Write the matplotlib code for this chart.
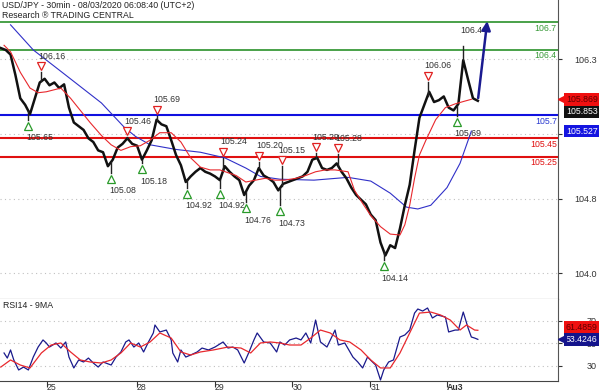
import numpy as np
import matplotlib.pyplot as plt
from matplotlib import transforms

plt.rcParams['font.family'] = ['Liberation Sans', 'DejaVu Sans']

# ---- data (30 min bars, x = bar number) ----
price_bars = list(range(0, 295, 3))
closes = [106.42, 106.40, 106.35, 106.13, 105.88, 105.81, 105.71, 105.88, 106.05, 106.09,
          106.02, 106.05, 105.99, 106.03, 105.78, 105.62, 105.58, 105.54, 105.45, 105.41,
          105.32, 105.30, 105.15, 105.22, 105.35, 105.39, 105.45, 105.39, 105.37, 105.22,
          105.32, 105.43, 105.65, 105.60, 105.58, 105.43, 105.27, 105.16, 104.98, 105.04,
          105.09, 105.13, 105.09, 105.07, 105.04, 105.00, 105.15, 105.09, 105.04, 105.00,
          104.84, 104.94, 105.00, 105.13, 105.05, 105.02, 104.98, 104.89, 104.96, 104.98,
          105.00, 105.02, 105.04, 105.09, 105.22, 105.24, 105.13, 105.11, 105.13, 105.18,
          105.09, 105.02, 104.92, 104.84, 104.79, 104.74, 104.63, 104.57, 104.33, 104.19,
          104.30, 104.27, 104.48, 104.73, 104.95, 105.32, 105.67, 105.81, 105.95, 105.84,
          105.86, 105.90, 105.78, 105.75, 105.82, 106.29, 106.08, 105.88, 105.853]

ma_fast_bars = [2, 6, 12, 18, 23, 28, 37, 43, 49, 55, 62, 68, 74, 80, 86, 92, 98, 105, 111,
                117, 123, 129, 135, 145, 151, 157, 163, 169, 175, 182, 188, 194, 200, 206,
                214, 218, 223, 228, 234, 240, 246, 249, 252, 255, 258, 262, 268, 274, 280,
                286, 290]
ma_fast = [106.45, 106.38, 106.16, 105.99, 105.94, 105.95, 105.99, 105.88, 105.75, 105.62,
           105.48, 105.38, 105.32, 105.36, 105.37, 105.43, 105.51, 105.51, 105.41, 105.24,
           105.14, 105.11, 105.11, 105.05, 104.98, 105.00, 105.02, 105.00, 105.00, 105.02,
           105.05, 105.09, 105.11, 105.11, 105.09, 104.89, 104.75, 104.62, 104.50, 104.42,
           104.41, 104.52, 104.73, 105.02, 105.27, 105.43, 105.65, 105.78, 105.82, 105.85,
           105.869]

ma_slow_bars = [6, 20, 37, 62, 76, 83, 92, 108, 123, 138, 151, 160, 172, 193, 214, 228, 240,
                250, 257, 265, 275, 283, 290]
ma_slow = [106.67, 106.40, 106.17, 105.83, 105.57, 105.47, 105.38, 105.33, 105.30, 105.24,
           105.13, 105.04, 105.01, 105.00, 105.03, 104.99, 104.86, 104.71, 104.69, 104.73,
           104.92, 105.18, 105.527]

high_bars = [25, 78, 96, 137, 159, 173, 194, 208, 263]
high_vals = [106.16, 105.46, 105.69, 105.24, 105.20, 105.15, 105.29, 105.28, 106.06]
low_bars = [17, 68, 87, 115, 135, 151, 172, 236, 281]
low_vals = [105.65, 105.08, 105.18, 104.92, 104.92, 104.76, 104.73, 104.14, 105.69]
spike_bar, spike_val = 285, 106.44

resistances = [106.7, 106.4]
pivot = 105.7
supports = [105.45, 105.25]
target = 106.74

rsi_bars = [2, 4, 6, 8, 11, 14, 17, 20, 23, 26, 28, 30, 34, 37, 40, 42, 45, 48, 51, 54, 57,
            60, 63, 68, 71, 74, 77, 79, 82, 85, 88, 91, 94, 95, 98, 102, 105, 106, 109, 111,
            114, 117, 121, 124, 128, 132, 137, 140, 143, 146, 150, 153, 156, 158, 162, 166,
            170, 172, 175, 178, 182, 185, 188, 191, 194, 197, 201, 206, 208, 212, 217, 220,
            223, 226, 231, 234, 236, 239, 242, 246, 249, 252, 255, 257, 260, 263, 266, 269,
            274, 276, 280, 282, 285, 288, 290, 292, 294]
rsi = [41.3, 36.8, 44.0, 35.1, 26.2, 28.8, 26.2, 37.7, 46.6, 52.9, 50.2, 46.6, 50.2, 45.7,
       51.1, 37.7, 28.0, 35.1, 33.3, 36.8, 32.4, 28.8, 33.3, 30.6, 37.7, 42.2, 51.1, 52.9,
       46.6, 50.2, 42.2, 51.1, 59.1, 66.2, 60.0, 61.7, 52.9, 41.3, 33.3, 44.0, 37.7, 39.5,
       42.2, 45.7, 44.0, 46.6, 51.1, 45.7, 46.6, 44.0, 32.4, 42.2, 52.9, 59.1, 51.1, 50.2,
       42.2, 51.1, 48.4, 52.9, 54.6, 52.9, 59.1, 50.2, 70.6, 51.1, 46.6, 61.7, 48.4, 50.2,
       37.7, 33.3, 28.0, 37.7, 30.6, 17.3, 26.2, 33.3, 35.1, 55.5, 57.3, 61.7, 76.8, 80.4,
       78.6, 81.3, 72.4, 75.1, 73.3, 60.0, 61.7, 61.7, 77.7, 63.5, 55.5, 54.6, 53.4246]
rsi_ma_bars = [0, 6, 12, 18, 25, 31, 37, 43, 49, 55, 62, 68, 74, 80, 86, 92, 98, 105, 111,
               117, 123, 131, 140, 148, 154, 160, 166, 172, 178, 185, 191, 197, 203, 209, 215,
               222, 228, 234, 240, 246, 252, 258, 265, 271, 277, 283, 287, 292, 294]
rsi_ma = [28.8, 35.1, 30.6, 28.0, 41.3, 48.4, 50.2, 42.2, 35.1, 33.3, 32.4, 35.1, 41.3, 50.2,
          46.6, 51.1, 59.1, 54.6, 42.2, 39.5, 42.2, 44.0, 46.6, 45.7, 41.3, 50.2, 51.1, 50.2,
          48.4, 48.4, 54.6, 61.7, 59.1, 52.9, 51.1, 44.0, 35.1, 28.0, 28.0, 41.3, 59.1, 76.8,
          77.7, 75.1, 70.6, 61.7, 66.2, 61.7, 61.4859]

day_ticks = [28.3, 83.7, 131.7, 179.7, 227.7, 275.1]
day_labels = ['25', '28', '29', '30', '31', 'Au3']

# ---- figure ----
fig = plt.figure(figsize=(6, 3.92), dpi=100)
ax = fig.add_axes([0, 1 - 299 / 392, 558 / 600, 299 / 392])
rax = fig.add_axes([0, 11 / 392, 558 / 600, 82 / 392], sharex=ax)

def off(a, dx, dy):
    return a.transData + transforms.ScaledTranslation(dx / 100, dy / 100, fig.dpi_scale_trans)

# levels
for lv in resistances:
    ax.axhline(lv, color='#3a9a3a', lw=1.3, zorder=2)
ax.axhline(pivot, color='#1010e0', lw=1.5, zorder=2)
for lv in supports:
    ax.axhline(lv, color='#e01010', lw=1.5, zorder=2)

lvl_tr = transforms.blended_transform_factory(ax.transAxes, ax.transData)
lvl_tr = lvl_tr + transforms.ScaledTranslation(0, -1.5 / 100, fig.dpi_scale_trans)
for lv in resistances:
    ax.text(0.998, lv, f'{lv:g}', transform=lvl_tr, ha='right', va='top', fontsize=6.3, color='#3a9a3a')
ax.text(0.998, pivot, f'{pivot:g}', transform=lvl_tr, ha='right', va='top', fontsize=6.3, color='#2a3ad0')
for lv in supports:
    ax.text(0.998, lv, f'{lv:g}', transform=lvl_tr, ha='right', va='top', fontsize=6.3, color='#e01010')

# moving averages
ax.plot(ma_slow_bars, ma_slow, color='#3030c8', lw=0.8, zorder=3)
ax.plot(ma_fast_bars, ma_fast, color='#e8282d', lw=0.8, zorder=4)

# price
ax.plot(price_bars, closes, color='#111111', lw=1.8, zorder=3)
for b, v in zip(high_bars + low_bars + [spike_bar], high_vals + low_vals + [spike_val]):
    ax.plot([b, b], [np.interp(b, price_bars, closes), v], color='#222222', lw=1.0, zorder=3)

# swing markers
for b, v in zip(high_bars, high_vals):
    ax.plot(b, v, marker='v', ms=6, mfc='white', mec='#e02020', mew=0.9, transform=off(ax, 0, 6), zorder=5)
    ax.text(b, v, f'{v:.2f}', transform=off(ax, -3, 16), ha='left', va='center', fontsize=6.3, color='#333333')
for b, v in zip(low_bars, low_vals):
    ax.plot(b, v, marker='^', ms=6, mfc='white', mec='#2a9a2a', mew=0.9, transform=off(ax, 0, -6), zorder=5)
    ax.text(b, v, f'{v:.2f}', transform=off(ax, -2, -18), ha='left', va='center', fontsize=6.3, color='#333333')
ax.text(spike_bar, spike_val, f'{spike_val:.2f}', transform=off(ax, -3, 16), ha='left', va='center',
        fontsize=6.3, color='#333333')

# projection arrow
ax.annotate('', xy=(300, target), xytext=(price_bars[-1], closes[-1]),
            arrowprops=dict(arrowstyle='-|>', color='#1a1a90', lw=1.8, mutation_scale=13), zorder=6)

ax.set_xlim(-0.5, 343.4)
ax.set_ylim(103.722, 106.937)
ax.set_yticks([106.3, 105.5, 104.8, 104.0])
ax.set_yticklabels(['106.3', '105.5', '104.8', '104.0'])

# rsi
rax.plot(rsi_bars, rsi, color='#1a1a8c', lw=0.9, zorder=3)
rax.plot(rsi_ma_bars, rsi_ma, color='#e8282d', lw=0.9, zorder=4)
rax.set_ylim(16.4, 89.3)
rax.set_yticks([70, 50, 30])
rax.set_yticklabels(['70', '50', '30'])
rax.set_xticks(day_ticks)
rax.set_xticklabels(day_labels)

for a in (ax, rax):
    a.yaxis.tick_right()
    a.tick_params(axis='y', direction='out', length=3, pad=25, labelsize=6.5, colors='#333333')
    for lab in a.get_yticklabels():
        lab.set_horizontalalignment('right')
    a.yaxis.grid(True, linestyle=(0, (1, 3)), color='#c0c0c0', lw=0.8)
    a.spines['left'].set_visible(False)
    a.spines['top'].set_visible(False)
    a.spines['right'].set_color('#555555')
    a.spines['bottom'].set_color('#444444')
    a.set_facecolor('white')

ax.tick_params(axis='x', length=0, labelbottom=False)
rax.tick_params(axis='x', direction='out', length=4, pad=-2.5, labelsize=6.3, colors='#333333')
for lab in rax.get_xticklabels():
    lab.set_horizontalalignment('left')
rax.get_xticklabels()[-1].set_fontweight('bold')

# value tags on the right
def tag(a, value, text, bg, fg, dy=0, pointer=False):
    tr = transforms.blended_transform_factory(a.transAxes, a.transData)
    tr = tr + transforms.ScaledTranslation(0, dy / 100, fig.dpi_scale_trans)
    a.text(1.014, value, text, transform=tr, ha='left', va='center', fontsize=6.3, color=fg,
           bbox=dict(boxstyle='square,pad=0.2', fc=bg, ec='none'), clip_on=False, zorder=10)
    if pointer:
        a.plot([1.008], [value], marker='<', ms=6, color=bg, transform=tr, clip_on=False, zorder=10)

tag(ax, ma_fast[-1], f'{ma_fast[-1]:.3f}', '#f01010', '#600000', pointer=True)
tag(ax, closes[-1], f'{closes[-1]:.3f}', '#111111', 'white', dy=-11)
tag(ax, ma_slow[-1], f'{ma_slow[-1]:.3f}', '#1414e0', 'white')
tag(rax, rsi_ma[-1], f'{rsi_ma[-1]:.4f}', '#f01010', '#600000', dy=3)
tag(rax, rsi[-1], f'{rsi[-1]:.4f}', '#14148c', 'white', pointer=True)

# titles
fig.text(2 / 600, 1 - 6 / 392, 'USD/JPY - 30min - 08/03/2020 06:08:40 (UTC+2)', ha='left', va='center',
         fontsize=6.3, color='#222222')
fig.text(2 / 600, 1 - 16 / 392, 'Research \u00ae TRADING CENTRAL', ha='left', va='center',
         fontsize=6.3, color='#222222')
fig.text(3 / 600, 1 - 306 / 392, 'RSI14 - 9MA', ha='left', va='center', fontsize=6.3, color='#222222')

fig.savefig('out.png', dpi=100)
